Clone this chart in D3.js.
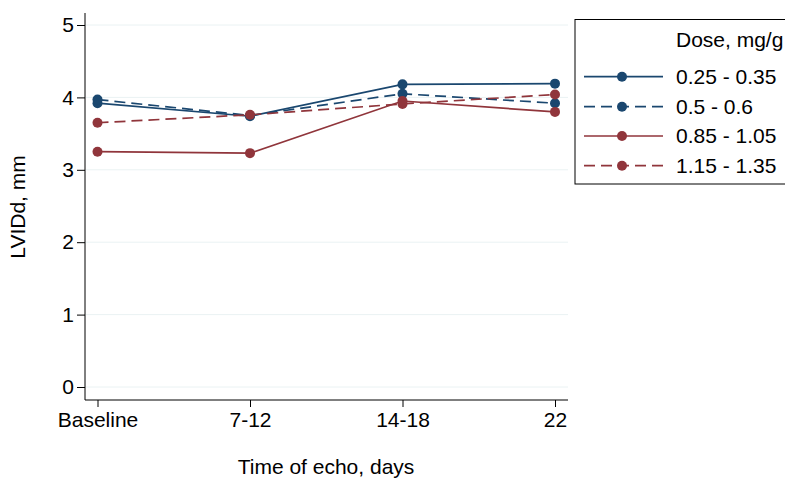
<!DOCTYPE html>
<html><head><meta charset="utf-8">
<script src="https://cdn.jsdelivr.net/npm/d3@7"></script>
<style>body{margin:0;background:#fff}svg{display:block}text{font-family:"Liberation Sans",Arial,sans-serif;fill:#000}</style>
</head><body><svg id="c" width="785" height="479"></svg>
<script>
const categories = ["Baseline", "7-12", "14-18", "22"];
const yTicks = [0, 1, 2, 3, 4, 5];
const seriesNames = ["0.25 - 0.35", "0.5 - 0.6", "0.85 - 1.05", "1.15 - 1.35"];
const s1 = [3.92, 3.74, 4.18, 4.19];
const s2 = [3.97, 3.75, 4.05, 3.92];
const s3 = [3.25, 3.23, 3.95, 3.80];
const s4 = [3.65, 3.76, 3.91, 4.04];
const seriesValues = [s1, s2, s3, s4];
const colors = ["#1a476f", "#1a476f", "#90353b", "#90353b"];
const dashes = [null, "11,6", null, "11,6"];

const svg = d3.select("#c");
const x = d3.scalePoint().domain(categories).range([97.5, 555]);
const y = d3.scaleLinear().domain([0, 5]).range([387, 25]);
const FS = "21px";

// gridlines
svg.append("g").selectAll("line").data(yTicks).join("line")
  .attr("x1", 86).attr("x2", 568).attr("y1", d => y(d)).attr("y2", d => y(d))
  .attr("stroke", "#eaf2f3").attr("stroke-width", 1);

// y axis
const ya = svg.append("g").attr("transform", "translate(85,0)")
  .call(d3.axisLeft(y).tickValues(yTicks).tickSize(8).tickPadding(3).tickFormat(d3.format("d")));
ya.select(".domain").attr("d", "M0,13V400").attr("stroke", "#000");
ya.selectAll(".tick line").attr("stroke", "#000");
ya.selectAll("text").style("font-size", FS);

// x axis
const xa = svg.append("g").attr("transform", "translate(0,400)")
  .call(d3.axisBottom(x).tickSize(7).tickPadding(5));
xa.select(".domain").attr("d", "M85,0H568").attr("stroke", "#000");
xa.selectAll(".tick line").attr("stroke", "#000");
xa.selectAll("text").style("font-size", FS);

// titles
svg.append("text").attr("transform", "translate(25,207) rotate(-90)")
  .attr("text-anchor", "middle").style("font-size", FS).text("LVIDd, mm");
svg.append("text").attr("x", 326).attr("y", 474).attr("text-anchor", "middle")
  .style("font-size", FS).text("Time of echo, days");

// lines & markers
const line = d3.line().x((d, i) => x(categories[i])).y(d => y(d));
seriesValues.forEach((vals, k) => {
  svg.append("path").datum(vals).attr("d", line).attr("fill", "none")
    .attr("stroke", colors[k]).attr("stroke-width", 1.7)
    .attr("stroke-dasharray", dashes[k]);
});
seriesValues.forEach((vals, k) => {
  svg.append("g").selectAll("circle").data(vals).join("circle")
    .attr("cx", (d, i) => x(categories[i])).attr("cy", d => y(d)).attr("r", 5)
    .attr("fill", colors[k]);
});

// legend
const lg = svg.append("g");
lg.append("rect").attr("x", 575).attr("y", 19.5).attr("width", 230).attr("height", 164.5)
  .attr("fill", "#fff").attr("stroke", "#000").attr("stroke-width", 1);
lg.append("text").attr("x", 676).attr("y", 47).style("font-size", FS).text("Dose, mg/g");
const rowY = [76.7, 106.7, 136, 165.7];
seriesNames.forEach((nm, k) => {
  lg.append("line").attr("x1", 584).attr("x2", 663).attr("y1", rowY[k]).attr("y2", rowY[k])
    .attr("stroke", colors[k]).attr("stroke-width", 1.7).attr("stroke-dasharray", dashes[k]);
  lg.append("circle").attr("cx", 622).attr("cy", rowY[k]).attr("r", 5).attr("fill", colors[k]);
  lg.append("text").attr("x", 676).attr("y", rowY[k] + 7).style("font-size", FS).text(nm);
});
</script></body></html>
